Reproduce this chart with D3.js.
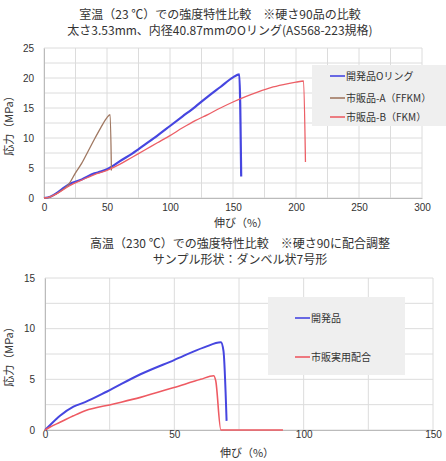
<!DOCTYPE html>
<html>
<head>
<meta charset="utf-8">
<script src="https://cdn.jsdelivr.net/npm/d3@7"></script>
<style>
  body { margin: 0; background: #fff; }
  svg text { font-family: "Noto Sans CJK JP", "Noto Sans", sans-serif; fill: #333; }
</style>
</head>
<body>
<div id="chart"></div>
<script>
// --- data: room temperature (23 C) ---
var roomX = [0, 5, 10, 15, 20, 30, 40, 45, 50, 55, 60, 70, 80, 90, 100, 110, 120, 130, 140, 150, 155, 156.5];
var devRing = [0, 0.2, 0.8, 1.6, 2.3, 3.1, 4.1, 4.4, 4.8, 5.4, 6.1, 7.4, 8.9, 10.4, 12.0, 13.6, 15.2, 16.9, 18.5, 20.1, 20.6, 3.6];

var ffkmAX = [0, 5, 10, 15, 20, 25, 30, 35, 40, 45, 50, 52.5, 53.5];
var ffkmA = [0, 0.2, 0.7, 1.4, 2.4, 4.2, 5.8, 7.8, 9.8, 11.7, 13.4, 13.9, 4.6];

var ffkmBX = [0, 5, 10, 20, 30, 40, 50, 60, 70, 80, 90, 100, 110, 120, 130, 140, 150, 160, 170, 180, 190, 200, 206, 207.5];
var ffkmB = [0, 0.2, 0.7, 2.0, 3.0, 3.9, 4.6, 5.6, 6.8, 8.0, 9.2, 10.4, 11.7, 12.9, 13.9, 15.0, 16.0, 16.9, 17.7, 18.4, 18.9, 19.3, 19.5, 6.0];

var roomXTicks = [0, 50, 100, 150, 200, 250, 300];
var roomYTicks = [0, 5, 10, 15, 20, 25];

// --- data: high temperature (230 C) ---
var devX = [0, 2, 5.8, 11, 15.5, 24, 36.9, 49.9, 61.5, 68, 69, 70.2];
var dev = [0, 0.5, 1.4, 2.3, 2.75, 3.8, 5.5, 6.9, 8.15, 8.65, 7.8, 0.9];

var commX = [0, 2, 5.8, 11, 15.5, 26.5, 36.9, 49.9, 60.2, 65.2, 66, 68, 80, 92];
var comm = [0, 0.3, 0.76, 1.4, 1.9, 2.57, 3.22, 4.2, 5.0, 5.36, 4.87, 0, 0, 0];

var hotXTicks = [0, 50, 100, 150];
var hotYTicks = [0, 5, 10, 15];

var W = 446, H = 461;
var svg = d3.select("#chart").append("svg").attr("width", W).attr("height", H);

function zip(xs, ys) {
  return xs.map(function (x, i) { return [x, ys[i]]; });
}

function panel(opt) {
  var x = d3.scaleLinear().domain(opt.xDomain).range([opt.left, opt.right]);
  var y = d3.scaleLinear().domain(opt.yDomain).range([opt.bottom, opt.top]);
  var g = svg.append("g");

  // gridlines (major + minor half steps)
  var xs = d3.range(opt.xDomain[0], opt.xDomain[1] + 0.01, opt.xStep / 2);
  var ys = d3.range(opt.yDomain[0], opt.yDomain[1] + 0.01, opt.yStep / 2);
  g.selectAll(".vg").data(xs).enter().append("line")
    .attr("x1", function (d) { return x(d); }).attr("x2", function (d) { return x(d); })
    .attr("y1", opt.top).attr("y2", opt.bottom)
    .attr("stroke", "#dcdcdc").attr("stroke-width", 1);
  g.selectAll(".hg").data(ys).enter().append("line")
    .attr("y1", function (d) { return y(d); }).attr("y2", function (d) { return y(d); })
    .attr("x1", opt.left).attr("x2", opt.right)
    .attr("stroke", "#dcdcdc").attr("stroke-width", 1);

  // axes
  var xa = g.append("g").attr("transform", "translate(0," + opt.bottom + ")")
    .call(d3.axisBottom(x).tickValues(opt.xTicks).tickSize(0).tickPadding(opt.xPad));
  var ya = g.append("g").attr("transform", "translate(" + opt.left + ",0)")
    .call(d3.axisLeft(y).tickValues(opt.yTicks).tickSize(0).tickPadding(10));
  [xa, ya].forEach(function (a) {
    a.select(".domain").attr("stroke", "#bbb");
    a.selectAll("text").attr("font-size", 10).attr("fill", "#444")
      .style("font-family", "Liberation Sans, Arial, sans-serif");
  });

  // legend box
  g.append("rect").attr("x", opt.legend.x).attr("y", opt.legend.y)
    .attr("width", opt.legend.w).attr("height", opt.legend.h).attr("fill", "#efefef");

  var line = d3.line().curve(d3.curveMonotoneX)
    .x(function (d) { return x(d[0]); }).y(function (d) { return y(d[1]); });
  opt.series.forEach(function (s, i) {
    g.append("path").datum(s.data).attr("d", line)
      .attr("fill", "none").attr("stroke", s.color).attr("stroke-width", s.width)
      .attr("stroke-linejoin", "round");
    var ly = opt.legend.itemY[i];
    g.append("line").attr("x1", opt.legend.lx).attr("x2", opt.legend.lx + 15)
      .attr("y1", ly).attr("y2", ly).attr("stroke", s.color).attr("stroke-width", 1.6);
    g.append("text").attr("x", opt.legend.lx + 16).attr("y", ly + 4)
      .attr("font-size", 10).text(s.name);
  });

  // titles
  opt.titles.forEach(function (t, i) {
    g.append("text").attr("x", opt.titleX).attr("y", opt.titleY + i * 16)
      .attr("text-anchor", "middle").attr("font-size", 12).text(t);
  });
  g.append("text").attr("x", (opt.left + opt.right) / 2 + 8).attr("y", opt.xLabelY)
    .attr("text-anchor", "middle").attr("font-size", 11).text("伸び（%）");
  g.append("text").attr("transform", "translate(13," + ((opt.top + opt.bottom) / 2) + ") rotate(-90)")
    .attr("text-anchor", "middle").attr("font-size", 11).text("応力（MPa）");
}

panel({
  left: 44, right: 422, top: 48, bottom: 198,
  xDomain: [0, 300], yDomain: [0, 25], xStep: 50, yStep: 5,
  xTicks: roomXTicks, yTicks: roomYTicks, xPad: 6, xLabelY: 227,
  titles: ["室温（23 ℃）での強度特性比較　※硬さ90品の比較", "太さ3.53mm、内径40.87mmのOリング(AS568-223規格)"],
  titleX: 220, titleY: 19,
  legend: { x: 312, y: 65, w: 134, h: 61, lx: 330, itemY: [76, 98, 117] },
  series: [
    { name: "開発品Oリング", color: "#4646e0", width: 2.2, data: zip(roomX, devRing) },
    { name: "市販品-A（FFKM）", color: "#a07862", width: 1.3, data: zip(ffkmAX, ffkmA) },
    { name: "市販品-B（FKM）", color: "#ec5f66", width: 1.3, data: zip(ffkmBX, ffkmB) }
  ]
});

panel({
  left: 45, right: 433, top: 278, bottom: 430,
  xDomain: [0, 150], yDomain: [0, 15], xStep: 50, yStep: 5,
  xTicks: hotXTicks, yTicks: hotYTicks, xPad: 1, xLabelY: 457,
  titles: ["高温（230 ℃）での強度特性比較　※硬さ90に配合調整", "サンプル形状：ダンベル状7号形"],
  titleX: 240, titleY: 248,
  legend: { x: 268, y: 297, w: 137, h: 78, lx: 295, itemY: [318, 357] },
  series: [
    { name: "開発品", color: "#4646e0", width: 2.0, data: zip(devX, dev) },
    { name: "市販実用配合", color: "#ee5a62", width: 1.6, data: zip(commX, comm) }
  ]
});
</script>
</body>
</html>
